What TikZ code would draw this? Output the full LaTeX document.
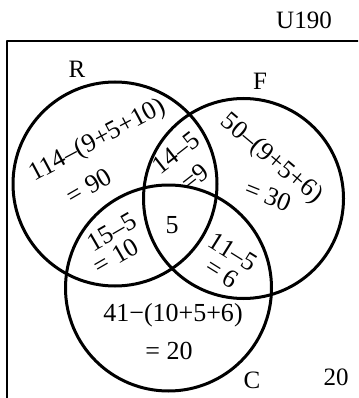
\documentclass[tikz,border=0pt]{standalone}
\usepackage{fontspec}
\setmainfont{Liberation Serif}
\usepackage{tikz}
\usetikzlibrary{positioning}

\begin{document}
\begin{tikzpicture}[x=1pt,y=-1pt, line cap=round, line join=round,
  lbl/.style={font=\fontsize{25}{29}\selectfont, inner sep=0pt},
  expr/.style={font=\fontsize{26}{30}\selectfont, inner sep=0pt}]

\useasboundingbox (0,0) rectangle (358,398);
\clip (0,0) rectangle (358,398);

% universe
\coordinate (ubl) at (7,402);
\coordinate (utl) at (7,41);
\coordinate (utr) at (362,41);
\draw[line width=2.6pt] (ubl) -- (utl) -- (utr);

\node[lbl] (u) at (304,20) {U190};
\node[lbl] (out) at (336,377) {20};

% the three sets
\coordinate (r) at (115,184);
\coordinate (f) at (243.5,198.5);
\coordinate (c) at (168.5,288);

\draw[line width=3pt] (r) circle (102);
\draw[line width=3pt] (f) circle (100);
\draw[line width=3pt] (c) circle (103);

\node[lbl] (rl) at (77,69) {R};
\node[lbl] (fl) at (260,81) {F};
\node[lbl] (cl) at (252,380) {C};

% regions
\node[expr, rotate=28] (r1) at (98,141) {114–(9+5+10)};
\node[expr, rotate=30] (r2) at (89,186) {= 90};

\node[expr, rotate=38] (rf1) at (176,153) {14–5};
\node[expr, rotate=38] (rf2) at (195,177) {=9};

\node[expr, rotate=-40] (f1) at (271,159) {50–(9+5+6)};
\node[expr, rotate=-22] (f2) at (268,196) {= 30};

\node[expr, rotate=30] (rc1) at (112,232) {15–5};
\node[expr, rotate=30] (rc2) at (116,256) {= 10};

\node[expr] (rfc) at (172,225) {5};

\node[expr, rotate=-32] (fc1) at (233,252) {11–5};
\node[expr, rotate=-32] (fc2) at (222,273) {= 6};

\node[expr] (c1) at (173,315) {41−(10+5+6)};
\node[expr] (c2) at (169,351) {= 20};

\end{tikzpicture}
\end{document}
